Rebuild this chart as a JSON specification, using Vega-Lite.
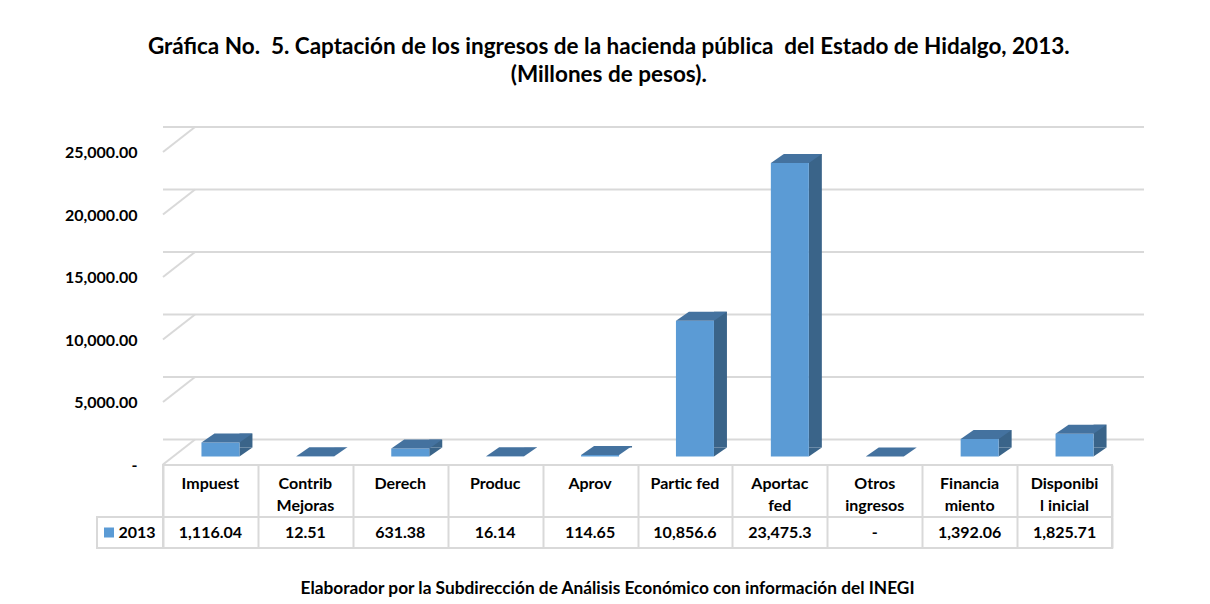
{
  "$schema": "https://vega.github.io/schema/vega-lite/v6.json",
  "background": "white",
  "padding": {"left": 64, "top": 35, "right": 5, "bottom": 5},
  "config": {"font": "Lato", "view": {"stroke": null}},
  "title": {
    "text": ["Gráfica No.\u00a0 5. Captación de los ingresos de la hacienda pública\u00a0 del Estado de Hidalgo, 2013.", "(Millones de pesos)."],
    "anchor": "middle",
    "fontSize": 22.5,
    "fontWeight": "bold",
    "lineHeight": 28,
    "offset": 40,
    "dx": 4,
    "color": "#000000",
    "font": "Lato"
  },
  "datasets": {
    "ingresos": [
      {"cat": "Impuest", "nombre": ["Impuest"], "valor": 1116.04, "texto": "1,116.04"},
      {"cat": "Contrib Mejoras", "nombre": ["Contrib", "Mejoras"], "valor": 12.51, "texto": "12.51"},
      {"cat": "Derech", "nombre": ["Derech"], "valor": 631.38, "texto": "631.38"},
      {"cat": "Produc", "nombre": ["Produc"], "valor": 16.14, "texto": "16.14"},
      {"cat": "Aprov", "nombre": ["Aprov"], "valor": 114.65, "texto": "114.65"},
      {"cat": "Partic fed", "nombre": ["Partic fed"], "valor": 10856.6, "texto": "10,856.6"},
      {"cat": "Aportac fed", "nombre": ["Aportac", "fed"], "valor": 23475.3, "texto": "23,475.3"},
      {"cat": "Otros ingresos", "nombre": ["Otros", "ingresos"], "valor": 0, "texto": "-"},
      {"cat": "Financiamiento", "nombre": ["Financia", "miento"], "valor": 1392.06, "texto": "1,392.06"},
      {"cat": "Disponibilidad inicial", "nombre": ["Disponibi", "l inicial"], "valor": 1825.71, "texto": "1,825.71"}
    ],
    "marcas": [{"t": 0}, {"t": 5000}, {"t": 10000}, {"t": 15000}, {"t": 20000}, {"t": 25000}],
    "serie": [{"serie": "2013"}]
  },
  "bounds": "flush",
  "spacing": 0,
  "vconcat": [
    {
      "width": 949,
      "height": 320.5,
      "data": {"name": "ingresos"},
      "layer": [
        {
          "data": {"name": "marcas"},
          "mark": {"type": "rule", "color": "#D9D9D9", "strokeWidth": 2, "xOffset": 32, "yOffset": -17},
          "encoding": {
            "y": {"field": "t", "type": "quantitative", "title": null,
              "scale": {"domain": [-640, 25000], "nice": false, "zero": false},
              "axis": {"values": [0, 5000, 10000, 15000, 20000, 25000], "labelExpr": "datum.value == 0 ? '-' : format(datum.value, ',.2f')", "ticks": false, "domain": false, "grid": false, "labelPadding": 26, "labelOffset": 8.5, "labelFont": "Lato", "labelFontSize": 16, "labelFontWeight": "bold", "labelColor": "#000000", "title": null}}
          }
        },
        {
          "data": {"name": "marcas"},
          "mark": {"type": "rule", "color": "#D9D9D9", "strokeWidth": 2, "yOffset": 8, "y2Offset": -17, "x2Offset": 32},
          "encoding": {
            "x": {"datum": "Impuest", "type": "nominal", "bandPosition": 0},
            "x2": {"datum": "Impuest", "bandPosition": 0},
            "y": {"field": "t", "type": "quantitative", "title": null},
            "y2": {"field": "t"}
          }
        },
        {
          "mark": {"type": "bar", "width": 13, "xOffset": 35.5, "yOffset": -9, "y2Offset": -9, "color": "#3A6489"},
          "encoding": {
            "x": {"field": "cat", "type": "nominal", "sort": null},
            "y": {"field": "valor", "type": "quantitative", "title": null}
          }
        },
        {
          "transform": [{"filter": "datum.valor > 500"}],
          "mark": {"type": "point", "shape": "M-1,-0.692L-1,0.692L1,-0.692Z", "size": 169, "filled": true, "opacity": 1, "strokeWidth": 0, "color": "#3A6489", "xOffset": 35.5, "yOffset": -4.5},
          "encoding": {
            "x": {"field": "cat", "type": "nominal", "sort": null},
            "y": {"datum": 0, "type": "quantitative"}
          }
        },
        {
          "mark": {"type": "bar", "width": 38, "xOffset": 10, "color": "#5B9BD5"},
          "encoding": {
            "x": {"field": "cat", "type": "nominal", "sort": null},
            "y": {"field": "valor", "type": "quantitative", "title": null}
          }
        },
        {
          "mark": {"type": "point", "shape": "M-1,0.1765L0.4902,0.1765L1,-0.1765L-0.4902,-0.1765Z", "size": 2601, "filled": true, "opacity": 1, "strokeWidth": 0, "color": "#44729F", "xOffset": 16.5, "yOffset": -4.5},
          "encoding": {
            "x": {"field": "cat", "type": "nominal", "sort": null},
            "y": {"field": "valor", "type": "quantitative", "title": null}
          }
        }
      ],
      "encoding": {
        "x": {"scale": {"domain": ["Impuest", "Contrib Mejoras", "Derech", "Produc", "Aprov", "Partic fed", "Aportac fed", "Otros ingresos", "Financiamiento", "Disponibilidad inicial"], "paddingInner": 0, "paddingOuter": 0}, "axis": null}
      }
    },
    {
      "width": 949,
      "height": 52,
      "data": {"name": "ingresos"},
      "view": {"stroke": "#D9D9D9", "strokeWidth": 2},
      "mark": {"type": "text", "baseline": "top", "dy": -15, "fontSize": 16, "fontWeight": "bold", "lineHeight": 22, "color": "#000000", "font": "Lato"},
      "encoding": {
        "x": {"field": "cat", "type": "nominal", "sort": null,
          "scale": {"domain": ["Impuest", "Contrib Mejoras", "Derech", "Produc", "Aprov", "Partic fed", "Aportac fed", "Otros ingresos", "Financiamiento", "Disponibilidad inicial"], "paddingInner": 0, "paddingOuter": 0},
          "axis": {"grid": true, "tickBand": "extent", "labels": false, "ticks": false, "domain": false, "title": null, "gridColor": "#D9D9D9", "gridWidth": 2}},
        "text": {"field": "nombre"}
      }
    },
    {
      "width": 949,
      "height": 31,
      "view": {"stroke": "#D9D9D9", "strokeWidth": 2},
      "title": {"text": "Elaborador por la Subdirección de Análisis Económico con información del INEGI", "orient": "bottom", "anchor": "middle", "fontSize": 17.3, "fontWeight": "bold", "font": "Lato", "color": "#000000", "offset": 31, "dx": -30},
      "layer": [
        {
          "data": {"name": "ingresos"},
          "mark": {"type": "text", "baseline": "middle", "fontSize": 16, "fontWeight": "bold", "color": "#000000", "font": "Lato"},
          "encoding": {
            "x": {"field": "cat", "type": "nominal", "sort": null,
              "axis": {"grid": true, "tickBand": "extent", "labels": false, "ticks": false, "domain": false, "title": null, "gridColor": "#D9D9D9", "gridWidth": 2}},
            "text": {"field": "texto"}
          }
        },
        {
          "data": {"name": "serie"},
          "mark": {"type": "rect", "fillOpacity": 0, "stroke": "#D9D9D9", "strokeWidth": 2, "xOffset": -66},
          "encoding": {
            "x": {"datum": "Impuest", "type": "nominal", "bandPosition": 0},
            "x2": {"datum": "Impuest", "bandPosition": 0}
          }
        },
        {
          "data": {"name": "serie"},
          "mark": {"type": "point", "shape": "square", "size": 100, "filled": true, "opacity": 1, "color": "#5B9BD5", "xOffset": -54},
          "encoding": {
            "x": {"datum": "Impuest", "type": "nominal", "bandPosition": 0}
          }
        },
        {
          "data": {"name": "serie"},
          "mark": {"type": "text", "baseline": "middle", "fontSize": 16, "fontWeight": "bold", "color": "#000000", "font": "Lato", "xOffset": -26},
          "encoding": {
            "x": {"datum": "Impuest", "type": "nominal", "bandPosition": 0},
            "text": {"field": "serie"}
          }
        }
      ],
      "encoding": {
        "x": {"scale": {"domain": ["Impuest", "Contrib Mejoras", "Derech", "Produc", "Aprov", "Partic fed", "Aportac fed", "Otros ingresos", "Financiamiento", "Disponibilidad inicial"], "paddingInner": 0, "paddingOuter": 0}}
      }
    }
  ]
}
